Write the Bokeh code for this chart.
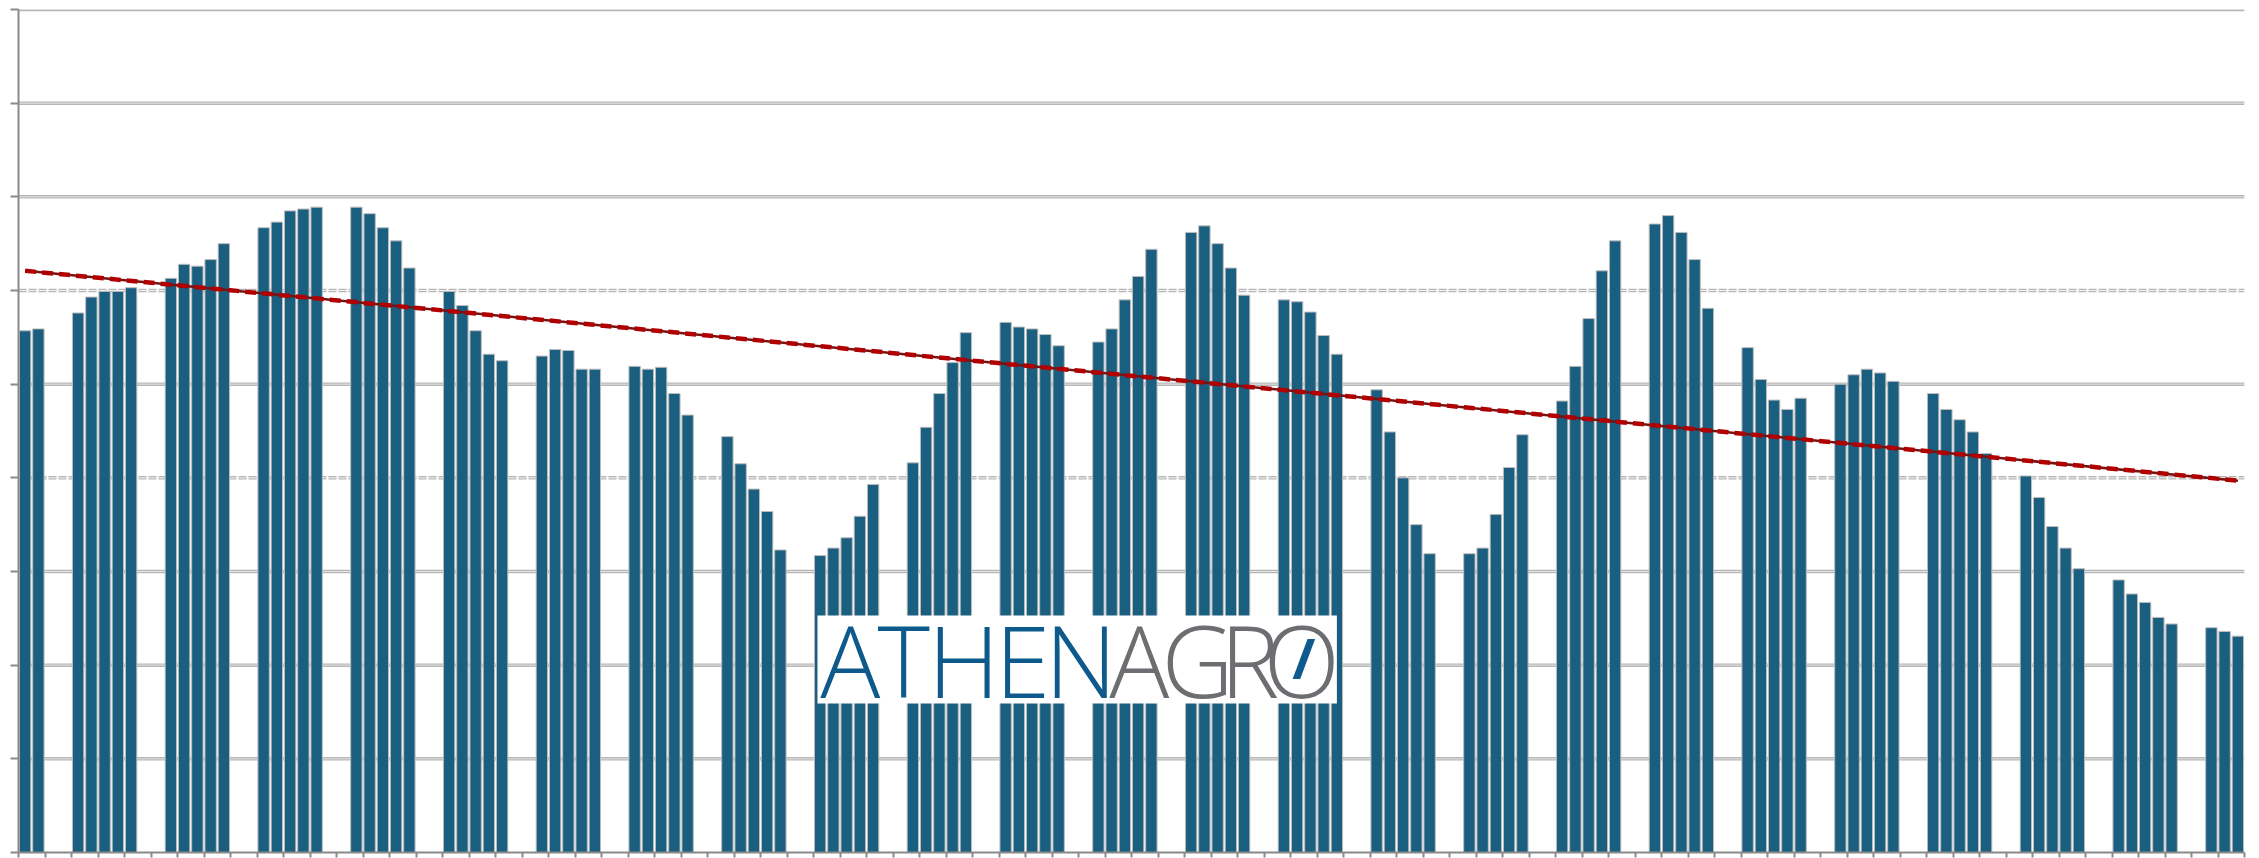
from bokeh.plotting import figure
from bokeh.models import Range1d, FixedTicker, Span, BoxAnnotation, Label, CustomJSTickFormatter
from bokeh.embed import file_html
from bokeh.resources import INLINE

# ---- data ----
# daily values, trading days only (Mon-Fri); series starts on a Thursday
values = [
    5.57, 5.59,
    5.76, 5.93, 5.99, 5.99, 6.03,
    6.13, 6.28, 6.26, 6.33, 6.50,
    6.67, 6.73, 6.85, 6.87, 6.89,
    6.89, 6.82, 6.67, 6.53, 6.24,
    5.99, 5.84, 5.57, 5.32, 5.25,
    5.30, 5.37, 5.36, 5.16, 5.16,
    5.19, 5.16, 5.18, 4.90, 4.67,
    4.44, 4.15, 3.88, 3.64, 3.23,
    3.17, 3.25, 3.36, 3.59, 3.93,
    4.16, 4.54, 4.90, 5.23, 5.55,
    5.66, 5.61, 5.59, 5.53, 5.41,
    5.45, 5.59, 5.90, 6.15, 6.44,
    6.62, 6.69, 6.50, 6.24, 5.95,
    5.90, 5.88, 5.77, 5.52, 5.32,
    4.94, 4.49, 4.00, 3.50, 3.19,
    3.19, 3.25, 3.61, 4.11, 4.46,
    4.82, 5.19, 5.70, 6.21, 6.53,
    6.71, 6.80, 6.62, 6.33, 5.81,
    5.39, 5.05, 4.83, 4.73, 4.85,
    5.00, 5.10, 5.16, 5.12, 5.03,
    4.90, 4.73, 4.62, 4.49, 4.26,
    4.02, 3.79, 3.48, 3.25, 3.03,
    2.91, 2.76, 2.67, 2.51, 2.44,
    2.40, 2.36, 2.31,
]
start_weekday = 3          # Thursday (Mon = 0)
trend_start = 6.21         # linear trend value at first day
trend_end = 3.97           # linear trend value at last day
grid_solid = [1, 2, 3, 5, 7, 8, 9]
grid_dashed = [4, 6]
y_ticks = list(range(0, 10))

# calendar-day position of every trading day (weekends left empty)
days = []
d, wd = 0, start_weekday
while len(days) < len(values):
    if wd < 5:
        days.append(d)
    d += 1
    wd = (wd + 1) % 7
x = [dd + 0.5 for dd in days]
n_slots = days[-1] + 1

BAR = "#1a5e80"
GRID = "#b6b6b6"
AXIS = "#8a8a8a"

p = figure(width=2251, height=858, output_backend="svg", toolbar_location=None,
           x_range=Range1d(0, n_slots), y_range=Range1d(0, 9),
           min_border_left=18, min_border_right=7, min_border_top=9, min_border_bottom=6)
p.outline_line_color = None
p.xgrid.visible = False
p.ygrid.visible = False
p.background_fill_color = "white"

# gridlines
for g in grid_solid:
    p.add_layout(Span(location=g, dimension="width", line_color=GRID, line_width=3.5, level="underlay"))
    p.add_layout(Span(location=g, dimension="width", line_color="#e4e4e4", line_width=1, level="underlay"))
for g in grid_dashed:
    p.add_layout(Span(location=g, dimension="width", line_color=GRID, line_width=3.5,
                      line_dash="8 2", level="underlay"))
    p.add_layout(Span(location=g, dimension="width", line_color="#f2f2f2", line_width=1,
                      line_dash="8 2", level="underlay"))

# bars
p.vbar(x=x, top=values, width=0.86, bottom=0, fill_color=BAR, line_color="#bdbdbd", line_width=1)

# trend line
p.line(x=[x[0], x[-1]], y=[trend_start, trend_end], line_color="#761212", line_width=2.5)
p.line(x=[x[0], x[-1]], y=[trend_start, trend_end], line_color="#b00000", line_width=4.5, line_dash="11 6")

# axes (no tick labels in the reference)
blank = CustomJSTickFormatter(code="return '';")
for ax in (p.xaxis[0], p.yaxis[0]):
    ax.axis_line_color = AXIS
    ax.axis_line_width = 2
    ax.major_tick_line_color = AXIS
    ax.major_tick_line_width = 2
    ax.minor_tick_line_color = None
    ax.major_tick_in = 0
    ax.formatter = blank
    ax.major_label_text_font_size = "1px"
    ax.major_label_standoff = 0
p.yaxis.ticker = FixedTicker(ticks=y_ticks)
p.yaxis.major_tick_out = 8
p.xaxis.ticker = FixedTicker(ticks=list(range(0, n_slots + 1, 2)))
p.xaxis.major_tick_out = 5

# logo overlay
p.add_layout(BoxAnnotation(left=60.3, right=99.5, bottom=1.59, top=2.53,
                           fill_color="white", fill_alpha=1.0, line_color=None, level="overlay"))
logo = [("A", 62.9, "#0e5a8c"), ("T", 66.9, "#0e5a8c"), ("H", 71.4, "#0e5a8c"),
        ("E", 75.8, "#0e5a8c"), ("N", 80.3, "#0e5a8c"), ("A", 84.7, "#6d6e71"),
        ("G", 89.0, "#6d6e71"), ("R", 93.0, "#6d6e71"), ("O", 96.9, "#6d6e71")]
for ch, lx, col in logo:
    p.add_layout(Label(x=lx, y=2.07, text=ch, text_color=col, text_font="Open Sans",
                       text_font_size="100px", text_align="center", text_baseline="middle",
                       level="overlay"))
p.add_layout(Label(x=97.0, y=2.09, text="/", text_color="#0e5a8c", text_font="Open Sans",
                   text_font_size="56px", text_font_style="bold", text_align="center",
                   text_baseline="middle", level="overlay"))

open("out.html", "w").write(file_html(p, INLINE))
